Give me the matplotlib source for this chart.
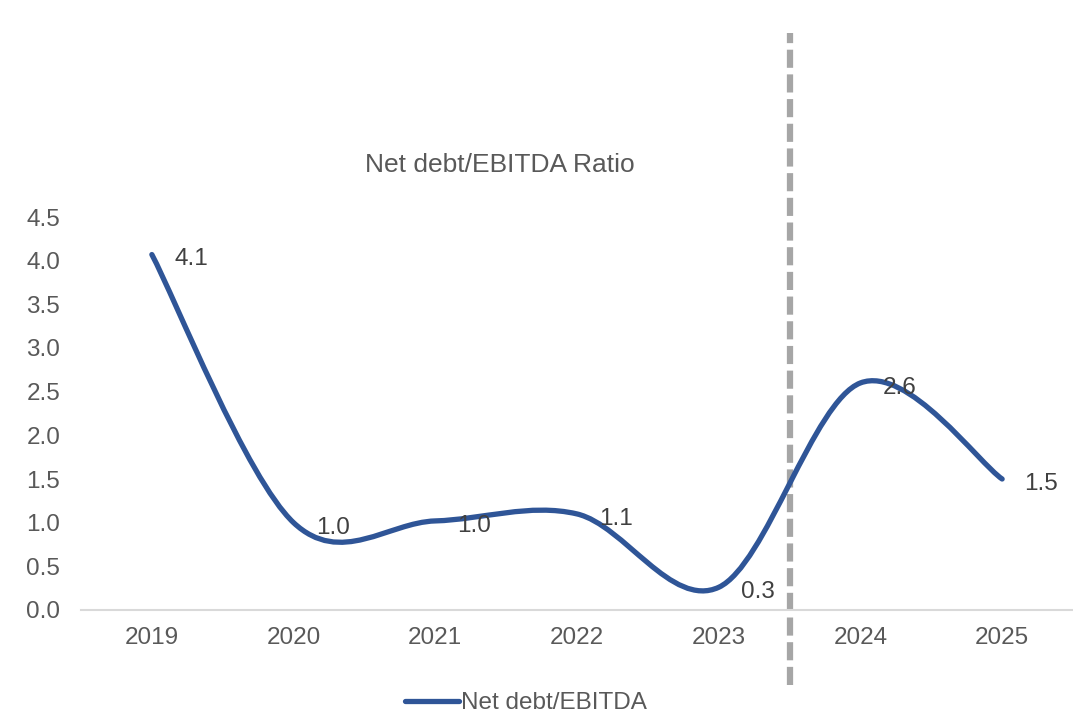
import numpy as np
import matplotlib
matplotlib.use("Agg")
import matplotlib.pyplot as plt
from matplotlib.path import Path
from matplotlib.patches import PathPatch

plt.rcParams['font.family'] = ['Liberation Sans', 'DejaVu Sans']

years = ["2019", "2020", "2021", "2022", "2023", "2024", "2025"]
net_debt_ebitda = [4.07, 1.0, 1.02, 1.1, 0.26, 2.6, 1.5]
y_ticks = [0.0, 0.5, 1.0, 1.5, 2.0, 2.5, 3.0, 3.5, 4.0, 4.5]

LINE_COLOR = "#2F5597"
TEXT_COLOR = "#595959"
LABEL_COLOR = "#404040"
FS = 17.5

fig = plt.figure(figsize=(10.73, 7.15), dpi=100)
ax = fig.add_axes([81 / 1073, 105 / 715, 992 / 1073, 393 / 715])

# Smoothed line: Catmull-Rom segments as cubic Bezier curves
x = np.arange(len(years), dtype=float)
y = np.array(net_debt_ebitda, dtype=float)
pts = np.column_stack([x, y])
verts = [tuple(pts[0])]
codes = [Path.MOVETO]
n = len(pts)
for i in range(n - 1):
    p0 = pts[i - 1] if i > 0 else pts[i]
    p1 = pts[i]
    p2 = pts[i + 1]
    p3 = pts[i + 2] if i + 2 < n else pts[i + 1]
    c1 = p1 + (p2 - p0) / 6.0
    c2 = p2 - (p3 - p1) / 6.0
    verts += [tuple(c1), tuple(c2), tuple(p2)]
    codes += [Path.CURVE4] * 3
curve = PathPatch(Path(verts, codes), facecolor="none", edgecolor=LINE_COLOR,
                  linewidth=3.8, capstyle="round", joinstyle="round", zorder=3)
ax.add_patch(curve)

# Data labels to the right of each point
for xi, yi in zip(x, y):
    ax.annotate(f"{yi:.1f}", (xi, yi), xytext=(16, -3.5), textcoords="offset points",
                ha="left", va="center", fontsize=FS, color=LABEL_COLOR, zorder=4)

# Divider between actual and forecast years
ax.axvline(4.5, ymin=-0.19, ymax=1.468, color="#A6A6A6", linewidth=4.5,
           linestyle=(0, (2.9, 1.05)), clip_on=False, zorder=2)

ax.set_xlim(-0.5, len(years) - 0.5)
ax.set_ylim(0, 4.5)
ax.set_xticks(x)
ax.set_xticklabels(years)
ax.set_yticks(y_ticks)
ax.set_yticklabels([f"{t:.1f}" for t in y_ticks])
ax.tick_params(axis="both", length=0, labelsize=FS, colors=TEXT_COLOR)
ax.tick_params(axis="x", pad=12)
ax.tick_params(axis="y", pad=15)

for side in ["top", "right", "left"]:
    ax.spines[side].set_visible(False)
ax.spines["bottom"].set_color("#D9D9D9")
ax.spines["bottom"].set_linewidth(1.5)

fig.text(500 / 1073, 1 - 165 / 715, "Net debt/EBITDA Ratio", ha="center", va="center",
         fontsize=19, color=TEXT_COLOR)

legend_handle = plt.Line2D([], [], color=LINE_COLOR, linewidth=3.8, solid_capstyle="round")
fig.legend([legend_handle], ["Net debt/EBITDA"], loc="center", bbox_to_anchor=(526 / 1073, 1 - 703 / 715),
           frameon=False, fontsize=FS, labelcolor=TEXT_COLOR, handlelength=2.2, handletextpad=0.1)

fig.savefig("out.png", dpi=100, facecolor="white")
